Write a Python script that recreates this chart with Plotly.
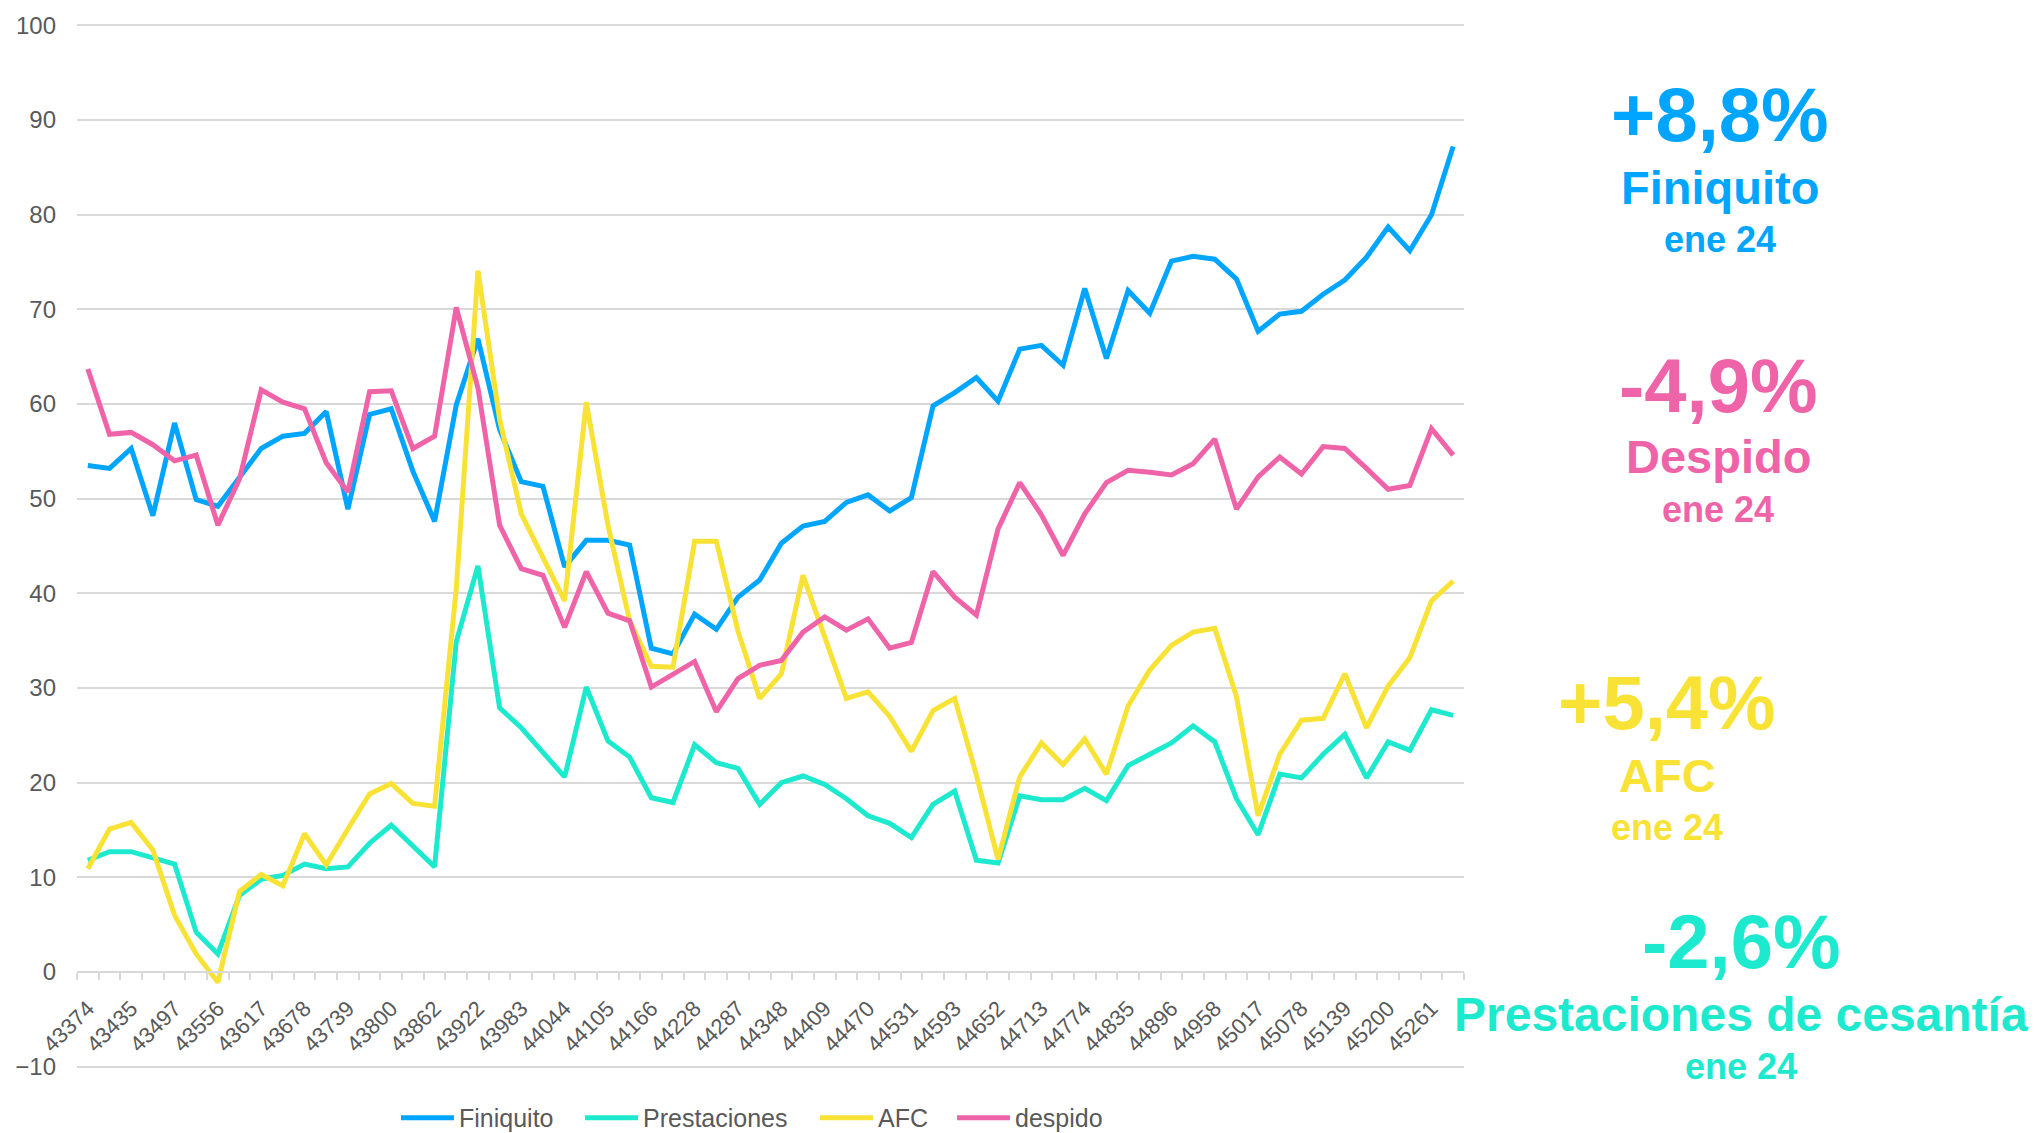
import plotly.graph_objects as go

# ---------------- data ----------------
categories = [
    43374, 43405, 43435, 43466, 43497, 43525, 43556, 43586, 43617, 43647,
    43678, 43709, 43739, 43770, 43800, 43831, 43862, 43891, 43922, 43952,
    43983, 44013, 44044, 44075, 44105, 44136, 44166, 44197, 44228, 44256,
    44287, 44317, 44348, 44378, 44409, 44440, 44470, 44501, 44531, 44562,
    44593, 44621, 44652, 44682, 44713, 44743, 44774, 44805, 44835, 44866,
    44896, 44927, 44958, 44986, 45017, 45047, 45078, 45108, 45139, 45170,
    45200, 45231, 45261, 45292,
]

finiquito = [
    53.5, 53.2, 55.3, 48.2, 58.0, 49.9, 49.2, 52.2, 55.3, 56.6,
    56.9, 59.2, 48.9, 58.9, 59.5, 52.9, 47.6, 59.9, 66.9, 57.3,
    51.8, 51.3, 42.8, 45.6, 45.6, 45.1, 34.2, 33.6, 37.8, 36.2,
    39.6, 41.4, 45.3, 47.1, 47.6, 49.6, 50.4, 48.7, 50.1, 59.8,
    61.2, 62.8, 60.3, 65.8, 66.2, 64.1, 72.2, 64.8, 72.0, 69.6,
    75.1, 75.6, 75.3, 73.2, 67.7, 69.5, 69.8, 71.6, 73.1, 75.5,
    78.7, 76.2, 80.0, 87.2,
]

prestaciones = [
    11.8, 12.7, 12.7, 12.1, 11.4, 4.2, 1.9, 8.1, 9.8, 10.2,
    11.4, 10.9, 11.1, 13.6, 15.5, 13.3, 11.1, 34.9, 42.9, 27.9,
    25.8, 23.2, 20.6, 30.1, 24.4, 22.7, 18.4, 17.9, 24.0, 22.1,
    21.5, 17.7, 20.0, 20.7, 19.8, 18.3, 16.5, 15.7, 14.2, 17.7,
    19.1, 11.8, 11.5, 18.6, 18.2, 18.2, 19.4, 18.1, 21.8, 23.0,
    24.2, 26.0, 24.3, 18.3, 14.5, 20.9, 20.5, 23.0, 25.1, 20.5,
    24.3, 23.4, 27.7, 27.1,
]

afc = [
    10.9, 15.1, 15.8, 12.9, 6.0, 1.9, -1.1, 8.5, 10.3, 9.1,
    14.6, 11.3, 15.1, 18.8, 19.9, 17.8, 17.5, 40.5, 74.1, 58.4,
    48.4, 43.9, 39.2, 60.2, 47.2, 37.1, 32.3, 32.2, 45.5, 45.5,
    36.0, 28.9, 31.5, 41.9, 35.5, 28.9, 29.6, 27.0, 23.3, 27.6,
    28.9, 20.8, 11.9, 20.6, 24.2, 21.9, 24.6, 20.9, 28.1, 31.9,
    34.5, 35.9, 36.3, 29.1, 16.5, 23.0, 26.6, 26.8, 31.5, 25.8,
    30.2, 33.2, 39.2, 41.3,
]

despido = [
    63.7, 56.8, 57.0, 55.7, 54.0, 54.6, 47.2, 52.1, 61.5, 60.2,
    59.5, 53.8, 50.7, 61.3, 61.4, 55.3, 56.6, 70.2, 61.7, 47.2,
    42.6, 41.9, 36.4, 42.3, 37.9, 37.1, 30.1, 31.5, 32.8, 27.5,
    31.0, 32.4, 32.9, 35.9, 37.5, 36.1, 37.3, 34.2, 34.8, 42.3,
    39.6, 37.7, 46.8, 51.7, 48.3, 44.0, 48.4, 51.7, 53.0, 52.8,
    52.5, 53.7, 56.3, 48.9, 52.3, 54.4, 52.6, 55.5, 55.3, 53.2,
    51.0, 51.4, 57.4, 54.6,
]

series_names = ["Finiquito", "Prestaciones", "AFC", "despido"]
series_colors = ["#00A5FF", "#1DE9CF", "#F9E236", "#EF63A8"]

# callout texts: (change, name, period, colour)
callouts = [
    ("+8,8%", "Finiquito", "ene 24", "#00A5FF"),
    ("-4,9%", "Despido", "ene 24", "#EF63A8"),
    ("+5,4%", "AFC", "ene 24", "#F9E236"),
    ("-2,6%", "Prestaciones de cesantía", "ene 24", "#1DE9CF"),
]

y_min, y_max = -10, 100

# ---------------- layout geometry (page pixels) ----------------
W, H = 2037, 1133
pad = 0.15                   # tiny range pad so edge gridlines are drawn
y_lo, y_hi = y_min - pad, y_max + pad
ref_top, ref_bot = 25.7, 1066.7          # pixels of y=100 and y=-10
ppu = (ref_bot - ref_top) / (y_max - y_min)
T = ref_top - pad * ppu
B = ref_bot + pad * ppu
L, R = 77, 1464

GRID = "#D9D9D9"
TXT = "#595959"
FONT = "Liberation Sans"

def px_x(px):
    return (px - L) / (R - L)

def px_y(py):
    return (B - py) / (B - T)

cat_labels = [str(c) for c in categories]
ticktext = [lab if i % 2 == 0 else "" for i, lab in enumerate(cat_labels)]

legend_ids = ["legend", "legend2", "legend3", "legend4"]
legend_starts = [402, 586, 821, 958]     # page px where each legend swatch starts

fig = go.Figure()
series = [finiquito, prestaciones, afc, despido]
for name, vals, col, lid in zip(series_names, series, series_colors, legend_ids):
    fig.add_trace(go.Scatter(
        x=cat_labels, y=vals, mode="lines", name=name, legend=lid,
        line=dict(color=col, width=5, shape="linear"),
    ))

legend_layout = {}
for lid, start in zip(legend_ids, legend_starts):
    legend_layout[lid] = dict(
        orientation="h", x=px_x(start - 6), xanchor="left",
        y=px_y(1118), yanchor="middle",
        font=dict(family=FONT, size=25, color=TXT),
        itemwidth=53, bgcolor="rgba(0,0,0,0)",
    )

fig.update_layout(
    width=W, height=H,
    margin=dict(l=L, r=W - R, t=T, b=H - B, autoexpand=False),
    paper_bgcolor="white", plot_bgcolor="white",
    font=dict(family=FONT, color=TXT, size=22),
    showlegend=True,
    **legend_layout,
    xaxis=dict(
        type="category", range=[-0.5, len(categories) - 0.5],
        anchor="free", position=(0 - y_lo) / (y_hi - y_lo),
        showgrid=False, zeroline=False,
        showline=True, linecolor=GRID, linewidth=2,
        ticks="outside", ticklen=7, tickwidth=2, tickcolor=GRID,
        tickson="boundaries",
        tickmode="array", tickvals=cat_labels, ticktext=ticktext,
        tickangle=-45, ticklabelstandoff=14,
        tickfont=dict(family=FONT, size=22, color=TXT),
        automargin=False,
    ),
    yaxis=dict(
        range=[y_lo, y_hi], dtick=10, tick0=0,
        showgrid=True, gridcolor=GRID, gridwidth=2,
        zeroline=False, showline=False, ticks="",
        ticklabelstandoff=20,
        tickfont=dict(family=FONT, size=24, color=TXT),
        automargin=False,
    ),
)

# callout layout: (center x, baselines of the three lines, name font size)
callout_pos = [
    (1720, 141, 204, 252, 47),
    (1718, 412, 473, 522, 47),
    (1667, 729, 792, 840, 47),
    (1741, 968, 1031, 1079, 48),
]

for (big, name, period, col), (cx, b1, b2, b3, nsize) in zip(callouts, callout_pos):
    for text, base, size in ((big, b1, 76), (name, b2, nsize), (period, b3, 36)):
        fig.add_annotation(
            x=px_x(cx), y=px_y(base - 0.35 * size), xref="paper", yref="paper",
            text=f"<b>{text}</b>", showarrow=False,
            xanchor="center", yanchor="middle",
            font=dict(family=FONT, size=size, color=col),
        )

fig.write_html(
    "out.html",
    config={"displayModeBar": False},
    post_script="document.body.style.margin='0';document.body.style.overflow='hidden';",
)
